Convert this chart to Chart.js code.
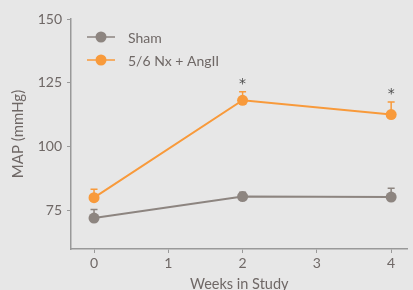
<!DOCTYPE html>
<html>
<head>
<meta charset="utf-8">
<script src="https://cdn.jsdelivr.net/npm/chart.js@4/dist/chart.umd.min.js"></script>
<style>
  html, body { margin: 0; padding: 0; background: #e7e7e7; }
  #wrap { width: 413px; height: 290px; position: relative; }
</style>
</head>
<body>
<div id="wrap"><canvas id="map-chart"></canvas></div>
<script>
// data
const weeks = [0, 2, 4];
const shamMean = [72.1, 80.5, 80.3];
const shamErr = [3.4, 1.7, 3.5];
const nxMean = [80.1, 118.2, 112.6];
const nxErr = [3.3, 3.3, 4.9];
const nxStars = ['', '*', '*'];
const xTicks = [0, 1, 2, 3, 4];
const yTicks = [75, 100, 125, 150];
const seriesNames = ['Sham', '5/6 Nx + AngII'];

const grey = '#8d8580';
const orange = '#f89a3b';
const axisColor = '#999999';
const textColor = '#6f6866';
const fontFam = 'Lato, "Open Sans", sans-serif';

function toPoints(xs, ys) {
    return xs.map((x, i) => ({ x: x, y: ys[i] }));
}

const errors = [shamErr, nxErr];
const stars = [null, nxStars];

// upper error bars, drawn under the markers
const errorBars = {
    id: 'errorBars',
    beforeDatasetsDraw(chart) {
        const ctx = chart.ctx;
        const y = chart.scales.y;
        chart.data.datasets.forEach((ds, di) => {
            const meta = chart.getDatasetMeta(di);
            ctx.save();
            ctx.strokeStyle = ds.borderColor;
            ctx.lineWidth = 1.5;
            meta.data.forEach((pt, i) => {
                const top = y.getPixelForValue(ds.data[i].y + errors[di][i]);
                ctx.beginPath();
                ctx.moveTo(pt.x, pt.y);
                ctx.lineTo(pt.x, top);
                ctx.moveTo(pt.x - 3.5, top);
                ctx.lineTo(pt.x + 3.5, top);
                ctx.stroke();
                if (stars[di] && stars[di][i]) {
                    // significance mark above the bar
                    ctx.fillStyle = '#4d4d4d';
                    ctx.font = '14px "DejaVu Sans", sans-serif';
                    ctx.textAlign = 'center';
                    ctx.textBaseline = 'alphabetic';
                    ctx.fillText(stars[di][i], pt.x, top - 11.5 + 7.5);
                }
            });
            ctx.restore();
        });
    }
};

// legend inside the plot, top left
const innerLegend = {
    id: 'innerLegend',
    afterDraw(chart) {
        const ctx = chart.ctx;
        const left = chart.chartArea.left;
        const top = chart.chartArea.top;
        chart.data.datasets.forEach((ds, i) => {
            const yy = top + 18 + i * 23;
            ctx.save();
            ctx.strokeStyle = ds.borderColor;
            ctx.lineWidth = 1.5;
            ctx.beginPath();
            ctx.moveTo(left + 16, yy);
            ctx.lineTo(left + 44, yy);
            ctx.stroke();
            ctx.fillStyle = ds.borderColor;
            ctx.beginPath();
            ctx.arc(left + 30, yy, 5.5, 0, Math.PI * 2);
            ctx.fill();
            ctx.fillStyle = textColor;
            ctx.font = '14px ' + fontFam;
            ctx.textAlign = 'left';
            ctx.textBaseline = 'middle';
            ctx.fillText(ds.label, left + 57, yy + 1);
            ctx.restore();
        });
    }
};

new Chart(document.getElementById('map-chart'), {
    type: 'line',
    data: {
        datasets: [
            {
                label: seriesNames[0],
                data: toPoints(weeks, shamMean),
                borderColor: grey,
                backgroundColor: grey,
                borderWidth: 2,
                pointRadius: 5.5,
                pointBorderWidth: 0,
                tension: 0
            },
            {
                label: seriesNames[1],
                data: toPoints(weeks, nxMean),
                borderColor: orange,
                backgroundColor: orange,
                borderWidth: 2,
                pointRadius: 5.5,
                pointBorderWidth: 0,
                tension: 0
            }
        ]
    },
    options: {
        responsive: true,
        maintainAspectRatio: false,
        animation: false,
        layout: { padding: { top: 19, right: 0, left: 0, bottom: 0 } },
        plugins: {
            legend: { display: false },
            tooltip: { enabled: false }
        },
        scales: {
            x: {
                type: 'linear',
                min: -0.31,
                max: 4.22,
                afterBuildTicks: s => { s.ticks = xTicks.map(v => ({ value: v })); },
                afterFit: s => { s.height = 41; },
                grid: { drawOnChartArea: false, drawTicks: true, tickLength: 4, tickColor: axisColor, tickWidth: 1 },
                border: { color: axisColor, width: 1.5 },
                ticks: { color: textColor, font: { family: fontFam, size: 14 }, padding: 2, maxRotation: 0 },
                title: { display: true, text: 'Weeks in Study', color: textColor, font: { family: fontFam, size: 14.5 }, padding: { top: 6, bottom: -3 } }
            },
            y: {
                min: 60,
                max: 150,
                afterBuildTicks: s => { s.ticks = yTicks.map(v => ({ value: v })); },
                afterFit: s => { s.width = 71; },
                grid: { drawOnChartArea: false, drawTicks: true, tickLength: 4, tickColor: axisColor, tickWidth: 1 },
                border: { color: axisColor, width: 1.5 },
                ticks: { color: textColor, font: { family: fontFam, size: 14 }, padding: 5 },
                title: { display: true, text: 'MAP (mmHg)', color: textColor, font: { family: fontFam, size: 15 }, padding: { top: 9, bottom: 0 } }
            }
        }
    },
    plugins: [errorBars, innerLegend]
});
</script>
</body>
</html>
